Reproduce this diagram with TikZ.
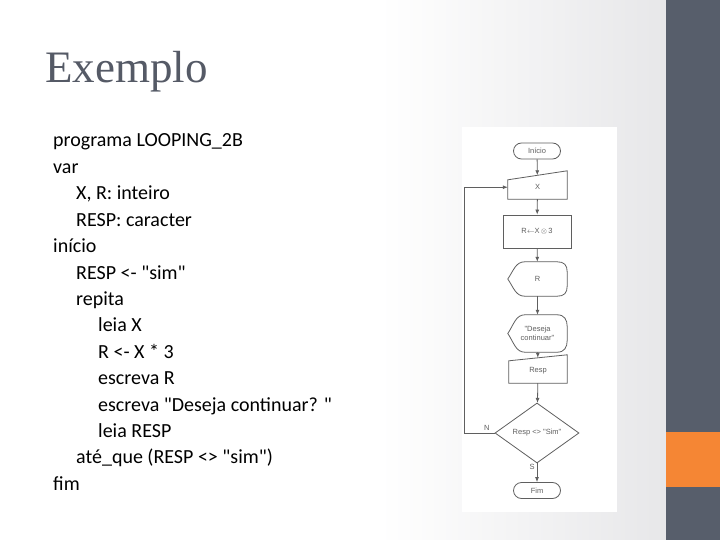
\documentclass[tikz,border=0pt]{standalone}
\usepackage{fontspec}
\setmainfont{Carlito}
\newfontfamily\titlefont{Liberation Serif}
\newfontfamily\chartfont{Liberation Sans}
\usepackage{tikz}
\usetikzlibrary{arrows.meta,shapes.geometric,calc}
\definecolor{slate}{RGB}{87,94,107}
\definecolor{accent}{RGB}{245,134,52}
\definecolor{fcgray}{RGB}{95,95,95}
\definecolor{bgend}{RGB}{231,231,233}
\definecolor{titlegray}{RGB}{85,90,102}
\newcommand{\dq}{\textquotedbl}
\tikzstyle{codeline}=[anchor=base west,inner sep=0pt,font=\fontsize{20}{24}\selectfont]
\tikzstyle{fcnode}=[inner sep=0pt,text=fcgray,font=\chartfont\fontsize{7.5}{9}\selectfont,align=center]
\tikzstyle{fcbox}=[fcnode,draw=fcgray,line width=0.8pt]
\tikzstyle{term}=[fcbox,rounded corners=8pt,minimum width=47pt,minimum height=16pt]
\tikzstyle{fcline}=[draw=fcgray,line width=0.8pt]
\tikzstyle{fcarrow}=[fcline,-{Latex[length=5pt,width=4pt]}]
% manual input: sloped top edge
\newcommand{\maninput}[2]{%
\draw[fcline] (#1.south west) -- (#1.south east) -- ($(#1.north east)+(0,-#2)$)
  -- ($(#1.north west)+(0,#2)$) -- cycle;}
% display: pointed left side, round right side
\newcommand{\dispout}[1]{%
\draw[fcline] (#1.west) .. controls +(6,-9) and +(-9,0) .. ($(#1.north west)+(17,0)$)
  -- ($(#1.north east)+(-10,0)$) .. controls +(7,0) and +(0,-7) .. ($(#1.east)+(0,-7)$)
  -- ($(#1.east)+(0,7)$) .. controls +(0,7) and +(7,0) .. ($(#1.south east)+(-10,0)$)
  -- ($(#1.south west)+(17,0)$) .. controls +(-9,0) and +(6,9) .. (#1.west) -- cycle;}

\begin{document}
\begin{tikzpicture}[x=1pt,y=-1pt]
\useasboundingbox (0,0) rectangle (720,540);

% background
\fill[white] (0,0) rectangle (666,540);
\shade[left color=white,right color=bgend] (380,0) rectangle (666,540);
\fill[slate] (666,0) rectangle (720,540);
\fill[accent] (666,432) rectangle (720,487);
\fill[white] (462,127) rectangle (617,512);

\node[anchor=base west,inner sep=0pt,font=\titlefont\fontsize{45}{50}\selectfont,text=titlegray] (title) at (45,83) {Exemplo};

% pseudo code
\node[codeline] (prog) at (53,147) {programa LOOPING\_2B};
\node[codeline] (var) at (53,173.4) {var};
\node[codeline] (decl1) at (76,199.8) {X, R: inteiro};
\node[codeline] (decl2) at (76,226.2) {RESP: caracter};
\node[codeline] (inicio) at (53,252.6) {início};
\node[codeline] (atrib) at (76,279) {RESP <- \dq sim\dq};
\node[codeline] (repita) at (76,305.4) {repita};
\node[codeline] (leiax) at (98,331.8) {leia X};
\node[codeline] (calcr) at (98,358.2) {R <- X * 3};
\node[codeline] (escr) at (98,384.6) {escreva R};
\node[codeline] (escmsg) at (98,411) {escreva \dq Deseja continuar? \dq};
\node[codeline] (leiaresp) at (98,437.4) {leia RESP};
\node[codeline] (ateque) at (76,463.8) {até\_que (RESP <> \dq sim\dq)};
\node[codeline] (fim) at (53,490.2) {fim};

% flowchart
\node[term] (ini) at (537,151) {Início};
\node[fcnode,minimum width=59pt,minimum height=23.5pt] (x) at (537.5,187.25) {X};
\node[fcbox,minimum width=68pt,minimum height=33pt] (calc) at (537,231.5) {R$\leftarrow$X\,$\otimes$\,3};
\node[fcnode,minimum width=59pt,minimum height=34pt] (r) at (537.5,279) {R};
\node[fcnode,minimum width=59pt,minimum height=37pt] (msg) at (537.5,333.5) {\dq Deseja\\continuar\dq};
\node[fcnode,minimum width=58pt,minimum height=25pt] (resp) at (538,370.5) {Resp};
\node[fcbox,diamond,aspect=1.4,minimum width=84pt,minimum height=60pt] (dec) at (537,433) {Resp <> \dq Sim\dq};
\node[term] (fimc) at (537,490.5) {Fim};
\coordinate (volta) at (464,433);

\maninput{x}{4.5}
\maninput{resp}{3}
\dispout{r}
\dispout{msg}

\draw[fcarrow] (ini) -- (x);
\draw[fcarrow] (x) -- (calc);
\draw[fcarrow] (calc) -- (r);
\draw[fcarrow] (r) -- (msg);
\draw[fcarrow] (msg) -- (resp);
\draw[fcarrow] (resp) -- (dec);
\draw[fcarrow] (dec) -- node[fcnode,pos=0.2,left=2pt] {S} (fimc);
\draw[fcline] (dec.west) -- node[fcnode,pos=0.25,above=2pt] {N} (volta);
\draw[fcarrow] (volta) |- (x.west);

\end{tikzpicture}
\end{document}
